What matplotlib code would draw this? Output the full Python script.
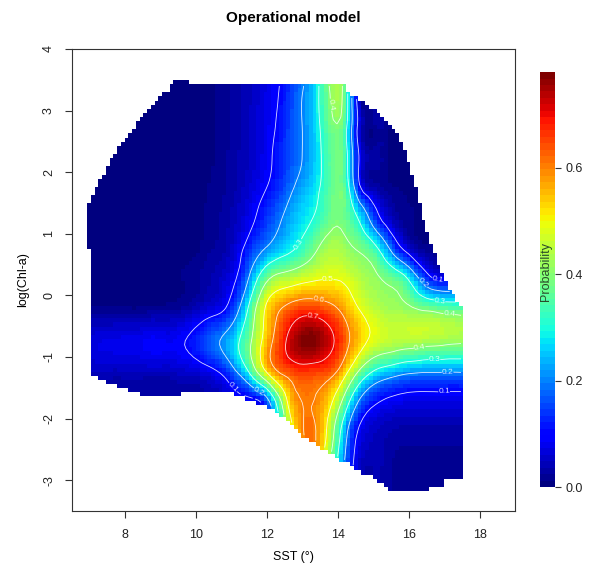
import numpy as np
import matplotlib
matplotlib.use("Agg")
import matplotlib.pyplot as plt
import matplotlib.tri as mtri
from matplotlib.path import Path

# probability values (rows = log(Chl-a), columns = SST)
sst = [6.5, 7.0, 7.5, 8.0, 8.5, 9.0, 9.5, 10.0, 10.5, 11.0, 11.5, 12.0,
       12.5, 13.0, 13.5, 14.0, 14.25, 14.5, 15.0, 15.5, 16.0, 16.5, 17.0, 17.5]
chl = [3.75, 3.25, 2.75, 2.25, 1.75, 1.25, 0.75, 0.25,
       -0.25, -0.75, -1.25, -1.75, -2.25, -2.75, -3.25]
prob = [
    [0, 0, 0, 0, 0, 0, .003, .006, .012, .025, .045, .075, .12, .20, .32, .44, .33, .12, .02, .01, .005, 0, 0, 0],
    [0, 0, 0, 0, 0, 0, .003, .006, .012, .025, .045, .075, .12, .20, .31, .43, .33, .12, .02, .01, .005, 0, 0, 0],
    [0, 0, 0, 0, 0, 0, .003, .006, .012, .025, .05, .08, .13, .20, .30, .395, .31, .13, .02, .01, 0, 0, 0, 0],
    [0, 0, 0, 0, 0, 0, .003, .006, .012, .028, .05, .085, .14, .20, .29, .385, .32, .15, .03, .01, .005, 0, 0, 0],
    [0, 0, 0, 0, 0, 0, .004, .007, .015, .03, .06, .10, .16, .23, .30, .385, .34, .18, .04, .015, .005, 0, 0, 0],
    [0, 0, 0, 0, 0, 0, .004, .008, .02, .04, .08, .14, .21, .27, .33, .39, .37, .32, .16, .05, .015, .005, 0, 0],
    [0, 0, 0, 0, 0, .003, .005, .01, .025, .05, .13, .21, .27, .33, .41, .44, .42, .40, .34, .19, .07, .02, .01, .005],
    [.003, .003, .003, .004, .004, .005, .01, .02, .04, .08, .21, .39, .45, .48, .50, .50, .485, .46, .42, .38, .30, .15, .10, .09],
    [.02, .02, .02, .02, .02, .025, .03, .05, .08, .14, .32, .52, .62, .67, .66, .61, .565, .52, .46, .43, .42, .40, .38, .37],
    [.07, .07, .075, .08, .085, .09, .09, .125, .18, .25, .38, .55, .69, .77, .76, .68, .62, .56, .48, .45, .44, .43, .42, .41],
    [.045, .045, .045, .045, .045, .045, .05, .06, .085, .16, .30, .50, .62, .66, .65, .59, .51, .42, .29, .24, .21, .20, .20, .20],
    [.03, .03, .03, .03, .03, .03, .03, .03, .04, .05, .07, .15, .45, .60, .58, .44, .33, .22, .11, .08, .07, .07, .07, .07],
    [.03, .03, .03, .03, .03, .03, .03, .03, .03, .03, .05, .10, .35, .59, .57, .34, .21, .11, .05, .035, .03, .03, .03, .03],
    [.03, .03, .03, .03, .03, .03, .03, .03, .03, .03, .03, .08, .25, .55, .52, .28, .17, .08, .04, .025, .02, .02, .02, .02],
    [.03, .03, .03, .03, .03, .03, .03, .03, .03, .03, .03, .07, .20, .45, .45, .20, .12, .06, .03, .02, .015, .015, .015, .015],
]

# outline of the area where the model was predicted
edge_sst = [9.37, 9.76, 9.76, 14.28, 14.3, 14.45, 14.71, 14.89, 15.22, 15.6, 15.88, 16.02,
            16.17, 16.31, 16.45, 16.6, 16.73, 16.87, 17.01, 17.15, 17.3, 17.44, 17.53, 17.53,
            17.05, 16.95, 16.3, 15.41, 15.22, 14.94, 14.57, 14.28, 14.05, 13.62, 13.34, 12.97,
            12.77, 12.4, 12.16, 11.88, 11.46, 11.03, 11.03, 9.62, 9.62, 8.63, 8.21, 7.79,
            7.36, 7.08, 7.08, 6.94, 6.94, 7.08, 7.22, 7.36, 7.5, 7.64, 7.79, 7.93, 8.07, 8.21,
            8.35, 8.49, 8.63, 8.77, 8.92, 9.06, 9.2, 9.34]
edge_chl = [3.51, 3.51, 3.43, 3.43, 3.32, 3.24, 3.16, 3.08, 2.95, 2.68, 2.41, 2.1,
            1.87, 1.49, 1.15, 0.85, 0.68, 0.46, 0.28, 0.1, -0.02, -0.13, -0.29, -2.99,
            -2.99, -3.08, -3.17, -3.17, -3.04, -2.93, -2.83, -2.72, -2.66, -2.5, -2.37, -2.26,
            -2.1, -1.96, -1.85, -1.77, -1.69, -1.6, -1.56, -1.56, -1.63, -1.63, -1.56, -1.47,
            -1.37, -1.29, 0.77, 0.77, 1.44, 1.62, 1.79, 1.95, 2.06, 2.22, 2.38, 2.49, 2.57, 2.65,
            2.81, 2.89, 2.97, 3.08, 3.16, 3.24, 3.32, 3.42]

# where the contour labels sit
label_pos = [(13.86, 3.1), (12.92, 0.82), (16.82, 0.25), (16.31, 0.15), (16.87, -0.1),
             (17.14, -0.35), (13.72, 0.25), (13.47, -0.08), (13.29, -0.36), (16.28, -0.69),
             (16.73, -1.0), (17.1, -1.23), (17.0, -1.53), (11.17, -1.42), (11.78, -1.55)]

# smooth surface on a 100 x 100 image grid, like the original image()
gx, gy = np.meshgrid(sst, chl)
tri = mtri.Triangulation(gx.ravel(), gy.ravel())
interp = mtri.CubicTriInterpolator(tri, np.array(prob).ravel(), kind="min_E")

x0, x1, y0, y1 = 6.94, 17.53, -3.17, 3.5
xe = np.linspace(x0, x1, 101)
ye = np.linspace(y0, y1, 101)
xc = (xe[:-1] + xe[1:]) / 2
yc = (ye[:-1] + ye[1:]) / 2
XC, YC = np.meshgrid(xc, yc)
zf = interp(XC, YC)

inside = Path(np.column_stack([edge_sst, edge_chl])).contains_points(
    np.column_stack([XC.ravel(), YC.ravel()])).reshape(XC.shape)
zf = np.ma.masked_where(~inside | np.ma.getmaskarray(zf), zf)

plt.rcParams["font.family"] = ["Liberation Sans", "DejaVu Sans"]
fig = plt.figure(figsize=(5.89, 5.73), dpi=100)
ax = fig.add_axes([0.1217, 0.1082, 0.7526, 0.8063])

cmap = plt.get_cmap("jet", 64)
im = ax.imshow(zf, extent=(x0, x1, y0, y1), origin="lower", aspect="auto",
               interpolation="nearest", cmap=cmap, vmin=0, vmax=0.78)

cs = ax.contour(XC, YC, zf, levels=[0.1, 0.2, 0.3, 0.4, 0.5, 0.6, 0.7],
                colors="white", linewidths=0.6, alpha=0.85)
ax.clabel(cs, fmt="%.1f", fontsize=6, inline=True, inline_spacing=1, manual=label_pos)

ax.set_xlim(6.5, 19.0)
ax.set_ylim(-3.5, 4.0)
ax.set_xticks([8, 10, 12, 14, 16, 18])
ax.set_yticks([-3, -2, -1, 0, 1, 2, 3, 4])
ax.set_yticklabels(["-3", "-2", "-1", "0", "1", "2", "3", "4"], rotation=90, va="center")
ax.tick_params(direction="out", length=5, labelsize=9, color="#333333", labelcolor="#222222")
ax.tick_params(axis="x", pad=8)
ax.tick_params(axis="y", pad=7)
for s in ax.spines.values():
    s.set_color("#333333")
    s.set_linewidth(0.8)

ax.set_xlabel("SST (°)", fontsize=9, labelpad=7)
ax.set_ylabel("log(Chl-a)", fontsize=9, labelpad=10)
fig.text(0.4975, 0.9686, "Operational model", ha="center", va="center",
         fontsize=11, fontweight="bold")

# colour legend
cax = fig.add_axes([0.9168, 0.150, 0.0255, 0.7243])
cb = fig.colorbar(im, cax=cax, ticks=[0, 0.2, 0.4, 0.6])
cb.outline.set_visible(False)
cb.ax.set_yticklabels(["0.0", "0.2", "0.4", "0.6"])
cb.ax.tick_params(length=4, labelsize=9, color="#333333", labelcolor="#222222")
cax.text(0.4, 0.52, "Probability", rotation=90, ha="center", va="center",
         fontsize=9, color="#2a4a2a", transform=cax.transAxes)

fig.savefig("out.png", dpi=100)
